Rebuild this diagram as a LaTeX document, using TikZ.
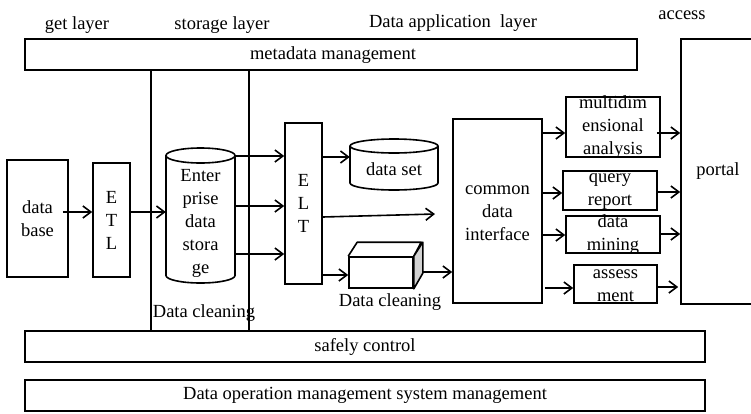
\documentclass[tikz,border=0pt]{standalone}
\usepackage{fontspec}
\setmainfont{Liberation Serif}
\usetikzlibrary{arrows.meta,calc}
\tikzset{
  box/.style={draw, line width=1.6pt, inner sep=0pt, align=center},
  plain/.style={inner sep=0pt, align=center},
  arr/.style={line width=1.6pt, -{Straight Barb[length=8pt,width=12pt,line width=1.6pt]}},
  ln/.style={line width=1.6pt}
}
\begin{document}
\begin{tikzpicture}[x=1pt,y=-1pt, every node/.style={font=\fontsize{18.5}{23}\selectfont}]
\useasboundingbox (0,0) rectangle (751,413);
\fill[white] (0,0) rectangle (751,413);
% layer labels
\node[plain] (lget) at (77,25) {get layer};
\node[plain] (lsto) at (222,25) {storage layer};
\node[plain] (lapp) at (453,23) {Data application\ \ layer};
\node[plain] (lacc) at (682,15) {access};
% long boxes
\node[box, minimum width=612pt, minimum height=31pt] (meta) at (331,54.5) {};
\node[plain] (metat) at (333,55) {metadata management};
\node[box, minimum width=680pt, minimum height=31pt] (sc) at (365,346.5) {safely control};
\node[box, minimum width=680pt, minimum height=31pt] (dom) at (365,395.5) {Data operation\ management\ system management};
% portal
\node[box, minimum width=74pt, minimum height=265pt] (portal) at (718,171.5) {portal};
% vertical lines
\draw[ln] (meta.south -| 151,0) -- (sc.north -| 151,0);
\draw[ln] (meta.south -| 249,0) -- (sc.north -| 249,0);
% data base and ETL
\node[box, minimum width=61pt, minimum height=117pt] (db) at (37.5,218.5) {data\\base};
\node[box, minimum width=37pt, minimum height=114pt] (etl) at (111.5,220) {E\\T\\L};
% enterprise data storage cylinder
\node[plain, minimum width=69pt, minimum height=135pt] (eds) at (200.5,215.5) {};
\draw[ln] (200.5,155.5) ellipse [x radius=34.5pt, y radius=7.5pt];
\draw[ln] (166,155.5) -- (166,275.5) arc[start angle=180,end angle=360,x radius=34.5pt,y radius=7.5pt] -- (235,155.5);
\node[plain] (edst) at (200.5,223) {Enter\\prise\\data\\stora\\ge};
\node[plain] (dc1) at (204,313) {Data cleaning};
% ELT
\node[box, minimum width=37pt, minimum height=161pt] (elt) at (303.5,203.5) {E\\L\\T};
% data set cylinder
\node[plain, minimum width=88pt, minimum height=51pt] (ds) at (394,164.5) {};
\draw[ln] (394,146) ellipse [x radius=44pt, y radius=7pt];
\draw[ln] (350,146) -- (350,183) arc[start angle=180,end angle=360,x radius=44pt,y radius=7pt] -- (438,146);
\node[plain] (dst) at (394,169) {data set};
% cube
\node[box, minimum width=64pt, minimum height=31pt] (cube) at (381,272.5) {};
\draw[ln, line join=round] (cube.north west) -- ++(9,-14) -- ++(64,0) -- (cube.north east);
\filldraw[ln, fill=gray!35, line join=round] (cube.north east) -- ++(9,-14) -- ++(0,31) -- (cube.south east) -- cycle;
\node[plain] (dc2) at (390,302) {Data cleaning};
% common data interface
\node[box, minimum width=89pt, minimum height=184pt] (cdi) at (497.5,211) {};
\node[plain] (cdit) at (497.5,213) {common\\data\\interface};
% right boxes
\node[box, minimum width=94pt, minimum height=60pt] (mda) at (613,127) {};
\node[plain] (mdat) at (613,127) {multidim\\ensional\\analysis};
\node[box, minimum width=94pt, minimum height=39pt] (qr) at (610,190.5) {};
\node[plain] (qrt) at (610,191.5) {query\\report};
\node[box, minimum width=94pt, minimum height=37pt] (dm) at (613,234.5) {};
\node[plain] (dmt) at (613,235) {data\\mining};
\node[box, minimum width=83pt, minimum height=38pt] (am) at (615.5,284) {};
\node[plain] (amt) at (615.5,286) {assess\\ment};
% arrows
\draw[arr] ([xshift=-6pt]db.east |- 0,212) -- (etl.west |- 0,212);
\draw[arr] (etl.east |- 0,212) -- (eds.west |- 0,212);
\draw[arr] (eds.east |- 0,156) -- (elt.west |- 0,156);
\draw[arr] (eds.east |- 0,206) -- (elt.west |- 0,206);
\draw[arr] (eds.east |- 0,254) -- (elt.west |- 0,254);
\draw[arr] (elt.east |- 0,157) -- (ds.west |- 0,157);
\coordinate (free) at (435,214);
\draw[arr] (elt.east |- 0,217) -- (free);
\draw[arr] (elt.east |- 0,275) -- (cube.west |- 0,275);
\draw[arr] ([xshift=9pt]cube.east |- 0,272) -- (cdi.west |- 0,272);
\draw[arr] (cdi.east |- 0,133) -- (mda.west |- 0,133);
\draw[arr] (cdi.east |- 0,193) -- (qr.west |- 0,193);
\draw[arr] (cdi.east |- 0,235) -- (dm.west |- 0,235);
\draw[arr] ([xshift=2pt]cdi.east |- 0,288) -- (am.west |- 0,288);
\draw[arr] ([xshift=-4pt]mda.east |- 0,133) -- (portal.west |- 0,133);
\draw[arr] (qr.east |- 0,192) -- (portal.west |- 0,192);
\draw[arr] (dm.east |- 0,234) -- (portal.west |- 0,234);
\draw[arr] (am.east |- 0,287) -- ([xshift=-2pt]portal.west |- 0,287);
\end{tikzpicture}
\end{document}
